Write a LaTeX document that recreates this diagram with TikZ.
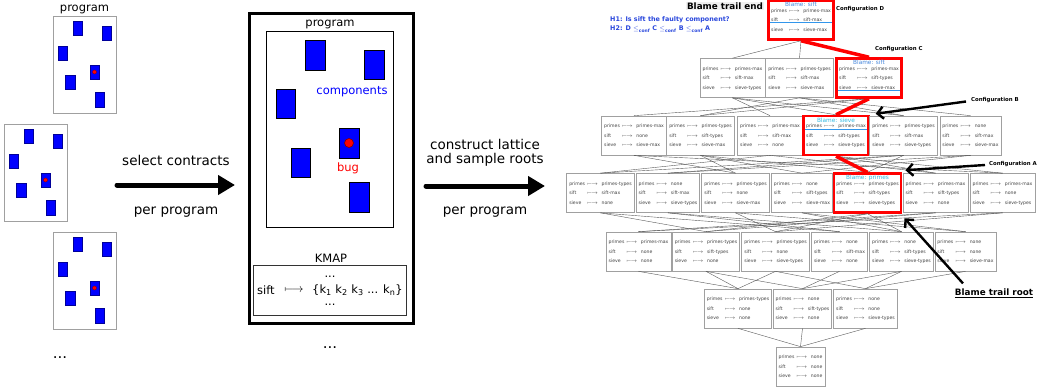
\documentclass[tikz,border=0pt]{standalone}
\usepackage{fontspec}
\setmainfont{DejaVu Sans}
\usetikzlibrary{arrows.meta}
\definecolor{cblue}{RGB}{0,0,255}
\definecolor{hypblue}{RGB}{40,70,220}
\definecolor{blameone}{RGB}{70,135,220}
\definecolor{blametwo}{RGB}{50,185,225}
\definecolor{ulblue}{RGB}{50,150,235}
\definecolor{boxgray}{RGB}{160,160,160}
\newcommand\cfgtab[3]{\begin{tabular}{@{}l@{\hspace{2pt}}c@{\hspace{3.5pt}}l@{}}primes&$\longmapsto$&#1\\sift&$\longmapsto$&#2\\sieve&$\longmapsto$&#3\end{tabular}}
\newcommand\smallprog[3]{%
 \begin{scope}[shift={(#1,#2)}]
  \node[progbox, minimum width=63pt, minimum height=97pt, anchor=north west] (#3) at (0,0) {};
  \filldraw[smallcomp] (20,5) rectangle (29,19);
  \filldraw[smallcomp] (49,10) rectangle (58,24);
  \filldraw[smallcomp] (5,30) rectangle (14,44);
  \filldraw[smallcomp] (37,49) rectangle (46,63);
  \filldraw[smallcomp] (12,59) rectangle (22,73);
  \filldraw[smallcomp] (42,76) rectangle (51,91);
  \filldraw[fill=red, draw=red!50!black, line width=0.3pt] (41.5,56) circle (2pt);
 \end{scope}}
\begin{document}
\begin{tikzpicture}[x=1pt,y=-1pt,
  cfg/.style={draw=boxgray, line width=0.7pt, fill=white, inner xsep=2.5pt, inner ysep=0pt,
    minimum height=39pt, font=\fontsize{4.6}{9.5}\selectfont, text=black!75},
  blamed/.style={draw=red, line width=2.5pt},
  blametitle/.style={font=\fontsize{5.8}{6}\selectfont, inner sep=0pt},
  underl/.style={draw=ulblue, line width=1.3pt},
  edge/.style={draw=black!65, line width=0.4pt},
  trail/.style={draw=red, line width=3.5pt},
  conf/.style={font=\bfseries\fontsize{5.4}{6}\selectfont, inner sep=0pt},
  bigtxt/.style={font=\fontsize{13.5}{16}\selectfont, inner sep=0pt},
  midtxt/.style={font=\fontsize{11.5}{13}\selectfont, inner sep=0pt},
  hyp/.style={font=\bfseries\fontsize{6.4}{8}\selectfont, text=hypblue, inner sep=0pt},
  annot/.style={draw=black, line width=2.4pt, -{Straight Barb[length=6pt,width=12pt]}},
  bigarrow/.style={draw=black, line width=5pt, line cap=round, -{Triangle[length=17pt,width=19pt]}},
  progbox/.style={draw=boxgray, line width=0.8pt, fill=white, inner sep=0pt},
  smallcomp/.style={fill=cblue, draw=blue!60!black, line width=0.3pt},
  bigcomp/.style={fill=cblue, draw=black, line width=0.8pt}
]
\useasboundingbox (0,0) rectangle (1042,389);

% ---------------- left panel ----------------
\node[midtxt] (ptitle) at (84.5,9) {program};
\smallprog{53}{16}{p1}
\smallprog{4}{124}{p2}
\smallprog{53}{232}{p3}
\node[font=\fontsize{15}{16}\selectfont, inner sep=0pt] (ldots) at (60,358) {...};

\coordinate (a1s) at (117,185);
\coordinate (a1e) at (235,185);
\draw[bigarrow] (a1s) -- (a1e);
\node[bigtxt] (sel) at (176,160) {select contracts};
\node[bigtxt] (pp1) at (176,212) {per program};

% ---------------- middle panel ----------------
\node[draw=black, line width=3pt, minimum width=164pt, minimum height=310pt, anchor=north west, inner sep=0pt] (mid) at (248,12) {};
\node[midtxt] (mtitle) at (330,24) {program};
\node[draw=black, line width=0.8pt, minimum width=127pt, minimum height=196pt, anchor=north west, inner sep=0pt] (inner) at (266,31) {};
\filldraw[bigcomp] (305,40) rectangle (325,70);
\filldraw[bigcomp] (364,50) rectangle (384,79);
\filldraw[bigcomp] (276,89) rectangle (295,118);
\filldraw[bigcomp] (339,128) rectangle (359,158);
\filldraw[bigcomp] (291,148) rectangle (310,177);
\filldraw[bigcomp] (349,182) rectangle (369,212);
\filldraw[fill=red, draw=red!50!black, line width=0.6pt] (349,143) circle (4.5pt);
\node[midtxt, text=cblue] (comps) at (352,92) {components};
\node[midtxt, text=red] (bug) at (348,168) {bug};
\node[midtxt] (kmapt) at (331,258) {KMAP};
\node[draw=black!80, line width=0.8pt, minimum width=153pt, minimum height=50pt, anchor=north west, inner sep=0pt] (kmap) at (253,265) {};
\node[midtxt] (kd1) at (330,277) {...};
\node[midtxt, anchor=west] (ksift) at (257,290) {sift};
\node[midtxt] (karr) at (294,290) {$\longmapsto$};
\node[midtxt, anchor=west] (kset) at (312,290) {\{k\textsubscript{1} k\textsubscript{2} k\textsubscript{3} ... k\textsubscript{n}\}};
\node[midtxt] (kd2) at (330,305) {...};
\node[font=\fontsize{15}{16}\selectfont, inner sep=0pt] (mdots) at (330,348) {...};

\coordinate (a2s) at (426,186);
\coordinate (a2e) at (545,186);
\draw[bigarrow] (a2s) -- (a2e);
\node[bigtxt] (cl1) at (485,144) {construct lattice};
\node[bigtxt] (cl2) at (485,160) {and sample roots};
\node[bigtxt] (pp2) at (485,212) {per program};

% ---------------- lattice ----------------
\node[cfg, blamed] (D) at (801,20) {\cfgtab{primes-max}{sift-max}{sieve-max}};

\node[cfg] (L5a) at (732.5,78) {\cfgtab{primes-max}{sift-max}{sieve-types}};
\node[cfg] (L5b) at (799.5,78) {\cfgtab{primes-types}{sift-max}{sieve-max}};
\node[cfg, blamed] (L5c) at (869,78) {\cfgtab{primes-max}{sift-types}{sieve-max}};

\node[cfg] (L4a) at (634,135.5) {\cfgtab{primes-max}{none}{sieve-max}};
\node[cfg] (L4b) at (700.5,135.5) {\cfgtab{primes-types}{sift-types}{sieve-max}};
\node[cfg] (L4c) at (770,135.5) {\cfgtab{primes-max}{sift-max}{none}};
\node[cfg, blamed] (L4d) at (836,135.5) {\cfgtab{primes-max}{sift-types}{sieve-types}};
\node[cfg] (L4e) at (903.5,135.5) {\cfgtab{primes-types}{sift-max}{sieve-types}};
\node[cfg] (L4f) at (970.5,135.5) {\cfgtab{none}{sift-max}{sieve-max}};

\node[cfg] (L3a) at (600.5,193) {\cfgtab{primes-types}{sift-max}{none}};
\node[cfg] (L3b) at (668,193) {\cfgtab{none}{sift-max}{sieve-types}};
\node[cfg] (L3c) at (735.5,193) {\cfgtab{primes-types}{none}{sieve-max}};
\node[cfg] (L3d) at (802,193) {\cfgtab{none}{sift-types}{sieve-max}};
\node[cfg, blamed] (L3e) at (867.5,193) {\cfgtab{primes-types}{sift-types}{sieve-types}};
\node[cfg] (L3f) at (935.5,193) {\cfgtab{primes-max}{sift-types}{none}};
\node[cfg] (L3g) at (1002.5,193) {\cfgtab{primes-max}{none}{sieve-types}};

\node[cfg] (L2a) at (638.5,251.5) {\cfgtab{primes-max}{none}{none}};
\node[cfg] (L2b) at (706,251.5) {\cfgtab{primes-types}{sift-types}{none}};
\node[cfg] (L2c) at (775.5,251.5) {\cfgtab{primes-types}{none}{sieve-types}};
\node[cfg] (L2d) at (839.5,251.5) {\cfgtab{none}{sift-max}{none}};
\node[cfg] (L2e) at (901.5,251.5) {\cfgtab{none}{sift-types}{sieve-types}};
\node[cfg] (L2f) at (965.5,251.5) {\cfgtab{none}{none}{sieve-max}};

\node[cfg] (L1a) at (738,308.5) {\cfgtab{primes-types}{none}{none}};
\node[cfg] (L1b) at (802.5,308.5) {\cfgtab{none}{sift-types}{none}};
\node[cfg] (L1c) at (865.5,308.5) {\cfgtab{none}{none}{sieve-types}};

\node[cfg] (L0) at (800.5,366.5) {\cfgtab{none}{none}{none}};

\foreach \a/\b in {D/L5a,D/L5b,
  L5a/L4e,L5a/L4d,L5a/L4c,
  L5b/L4f,L5b/L4b,L5b/L4e,
  L5c/L4b,L5c/L4a,
  L4a/L3c,L4a/L3g,
  L4b/L3d,L4b/L3c,L4b/L3e,
  L4c/L3a,L4c/L3f,
  L4d/L3g,L4d/L3f,
  L4e/L3b,L4e/L3e,L4e/L3a,
  L4f/L3d,L4f/L3b,
  L3a/L2d,L3a/L2b,
  L3b/L2e,L3b/L2d,
  L3c/L2f,L3c/L2c,
  L3d/L2f,L3d/L2e,
  L3e/L2e,L3e/L2c,L3e/L2b,
  L3f/L2b,L3f/L2a,
  L3g/L2c,L3g/L2a,
  L2a/L1a,L2b/L1b,L2b/L1a,L2c/L1c,L2c/L1a,L2d/L1b,L2e/L1c,L2e/L1b,L2f/L1c,
  L1a/L0,L1b/L0,L1c/L0}
  \draw[edge] (\a.south) -- (\b.north);

\foreach \a/\b in {D/L5c,L5c/L4d,L4d/L3e}
  \draw[trail] (\a.south) -- (\b.north);

% blame titles and underlines
\node[blametitle, text=blameone] (tD) at ([yshift=-5.5pt]D.north) {Blame: sift};
\node[blametitle, text=blameone] (tC) at ([yshift=-5.5pt]L5c.north) {Blame: sift};
\node[blametitle, text=blametwo] (tB) at ([yshift=-5.5pt]L4d.north) {Blame: sieve};
\node[blametitle, text=blametwo] (tA) at ([yshift=-5.5pt]L3e.north) {Blame: primes};
\draw[underl] ([xshift=3pt,yshift=-23pt]D.north west) -- ([xshift=-3pt,yshift=-23pt]D.north east);
\draw[underl] ([xshift=3pt,yshift=-33pt]L5c.north west) -- ([xshift=-3pt,yshift=-33pt]L5c.north east);
\draw[underl] ([xshift=3pt,yshift=-15pt]L4d.north west) -- ([xshift=-3pt,yshift=-15pt]L4d.north east);

% annotations
\node[font=\bfseries\fontsize{8.8}{10}\selectfont, fill=black!6, inner sep=0.8pt, anchor=east] (tend) at (764,6) {Blame trail end};
\node[hyp, anchor=west] (h1) at (610,20) {H1: Is sift the faulty component?};
\node[hyp, anchor=west] (h2) at (610,29) {H2: D $\leq$\textsubscript{conf} C $\leq$\textsubscript{conf} B $\leq$\textsubscript{conf} A};
\node[conf, anchor=west] (cD) at (836,9) {Configuration D};
\node[conf, anchor=west] (cC) at (875,49) {Configuration C};
\node[conf, anchor=west] (cB) at (971,100) {Configuration B};
\node[conf, anchor=west] (cA) at (989,164) {Configuration A};
\node[font=\bfseries\fontsize{8.8}{10}\selectfont, inner sep=0pt] (troot) at (994,293) {\underline{Blame trail root}};

\coordinate (tipB) at ([xshift=6pt,yshift=1pt]L4d.north east);
\coordinate (tipA) at ([xshift=3pt,yshift=2pt]L3e.north east);
\coordinate (tipR) at ([xshift=2pt,yshift=-4.5pt]L3e.south east);
\draw[annot] ([xshift=-5pt,yshift=-1.5pt]cB.west) -- (tipB);
\draw[annot] ([xshift=-4pt,yshift=-1pt]cA.west) -- (tipA);
\draw[annot] ([xshift=-31pt,yshift=5pt]troot.north) -- (tipR);
\end{tikzpicture}
\end{document}
